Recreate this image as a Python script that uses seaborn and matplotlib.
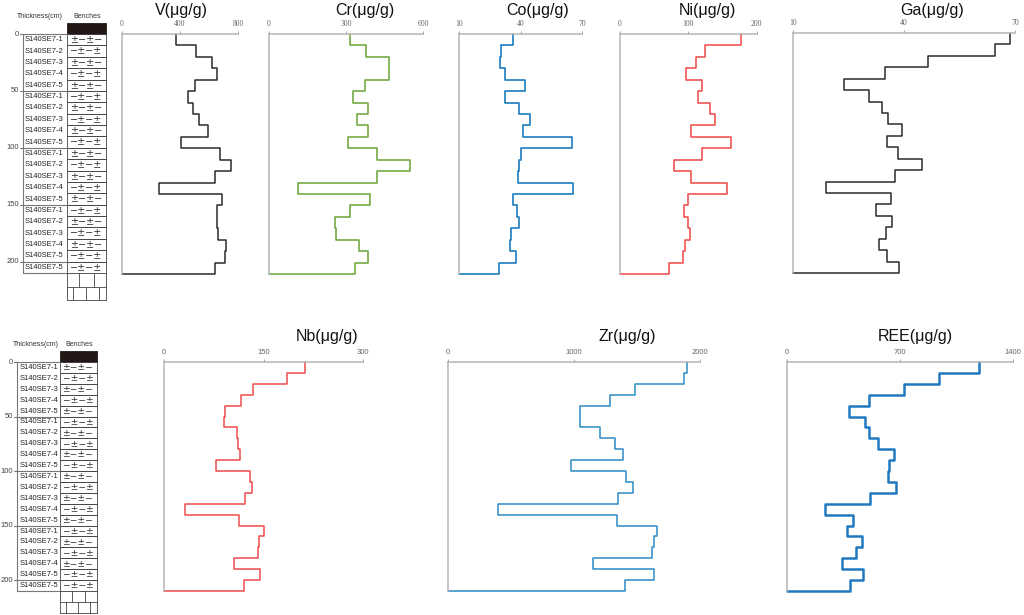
import matplotlib
matplotlib.use('Agg')
import matplotlib.pyplot as plt
from matplotlib.patches import Rectangle
import seaborn as sns
import numpy as np

sns.set_style('white')
plt.rcParams['font.family'] = ['Liberation Sans', 'DejaVu Sans']

# ---- data ----
bench_thickness = 10  # cm per bench
samples = ['S140SE7-1', 'S140SE7-2', 'S140SE7-3', 'S140SE7-4', 'S140SE7-5'] * 4 + ['S140SE7-5']
patterns = ['±−±−', '−±−±'] * 10 + ['−±−±']
thick_ticks = [0, 50, 100, 150, 200]

V = [370, 510, 622, 651, 505, 455, 489, 530, 594, 407, 674, 747, 642, 256, 688, 651, 655, 660, 713, 706, 642]
Cr = [316, 378, 468, 468, 375, 325, 384, 343, 386, 306, 419, 547, 419, 114, 391, 314, 256, 260, 351, 386, 335]
Co = [36.4, 30.3, 30.0, 32.4, 42.1, 32.4, 39.3, 44.5, 41.0, 65.1, 40.1, 39.0, 38.8, 65.3, 36.3, 38.4, 39.2, 35.3, 34.6, 37.6, 29.6]
Ni = [177, 124, 111, 96, 120, 114, 132, 139, 104, 162, 120, 79, 104, 157, 100, 94, 100, 103, 95, 92, 72]
Ga = [68.7, 64.6, 46.4, 34.8, 23.7, 30.5, 34.0, 35.7, 39.5, 35.3, 38.4, 44.9, 37.4, 18.8, 36.4, 32.5, 36.8, 35.0, 33.2, 35.4, 38.6]
Nb = [212.5, 184.5, 134, 116, 91.5, 90, 109, 111.5, 113.5, 78, 129, 131.5, 121.5, 31, 113, 151, 143.5, 142, 105.5, 144.5, 120]
Zr = [1897, 1870, 1486, 1285, 1046, 1046, 1205, 1325, 1391, 977, 1409, 1468, 1351, 397, 1343, 1656, 1632, 1621, 1152, 1632, 1404]
REE = [1190, 944, 723, 509, 381, 480, 509, 565, 660, 631, 625, 677, 513, 236, 408, 371, 466, 429, 342, 472, 391]

edges = np.arange(len(samples) + 1) * bench_thickness
depth_max = edges[-1]

W, H = 1024, 615
fig = plt.figure(figsize=(W / 100, H / 100), dpi=100)


def step_profile(values, xmin):
    xs, ys = [], []
    for i, v in enumerate(values):
        xs += [v, v]
        ys += [edges[i], edges[i + 1]]
    xs.append(xmin)
    ys.append(depth_max)
    return np.array(xs), np.array(ys)


def panel(values, title, lims, ticks, box, color, lw, tick_font, title_cx, title_y):
    x0, x1, yt, yb = box
    ax = fig.add_axes([x0 / W, 1 - yb / H, (x1 - x0) / W, (yb - yt) / H])
    xs, ys = step_profile(values, lims[0])
    sns.lineplot(x=xs, y=ys, sort=False, estimator=None, color=color, lw=lw, ax=ax)
    for l in ax.lines:
        l.set_clip_on(False)
    ax.set_xlim(*lims)
    ax.set_ylim(depth_max, 0)
    ax.xaxis.tick_top()
    ax.set_xticks(ticks)
    ax.set_xticklabels([str(t) for t in ticks], fontsize=5.5, color='#666',
                       family=tick_font)
    ax.tick_params(axis='x', length=2, width=0.6, color='#999', pad=2)
    ax.set_yticks([])
    ax.set_xlabel('')
    ax.set_ylabel('')
    for s in ['bottom', 'right']:
        ax.spines[s].set_visible(False)
    for s in ['top', 'left']:
        ax.spines[s].set_color('#b5b5b5')
        ax.spines[s].set_linewidth(1.1)
    fig.text(title_cx / W, 1 - title_y / H, title, ha='center', va='center',
             fontsize=11.5, color='#111')
    return ax


serif = ['Liberation Serif', 'DejaVu Serif']
sans = ['Liberation Sans', 'DejaVu Sans']

panel(V, 'V(μg/g)', (0, 800), [0, 400, 800], (121.7, 238.3, 34, 274), '#2b2b2b', 1.1, serif, 181, 10)
panel(Cr, 'Cr(μg/g)', (0, 600), [0, 300, 600], (269, 423.3, 34, 274), '#6aa336', 1.1, serif, 365, 10)
panel(Co, 'Co(μg/g)', (10, 70), [10, 40, 70], (459, 582.3, 34, 274), '#1b7dbf', 1.2, serif, 538, 10)
panel(Ni, 'Ni(μg/g)', (0, 200), [0, 100, 200], (620, 756.7, 34, 274), '#ef4646', 1.1, serif, 707, 10)
panel(Ga, 'Ga(μg/g)', (10, 70), [10, 40, 70], (793.3, 1015, 33, 273), '#2b2b2b', 1.1, serif, 932, 10)
panel(Nb, 'Nb(μg/g)', (0, 300), [0, 150, 300], (164.3, 363.3, 362, 591), '#ef4a4a', 1.1, sans, 327, 337)
panel(Zr, 'Zr(μg/g)', (0, 2000), [0, 1000, 2000], (448.3, 700, 362, 591), '#2b8cc4', 1.1, sans, 627, 337)
panel(REE, 'REE(μg/g)', (0, 1400), [0, 700, 1400], (787.3, 1012.7, 362, 591), '#2079c0', 1.8, sans, 915, 337)

# ---- stratigraphic columns (overlay in pixel units) ----
ov = fig.add_axes([0, 0, 1, 1])
ov.set_xlim(0, W)
ov.set_ylim(H, 0)
ov.axis('off')

columns = [
    dict(top=34, bot=273, xa=23, label_cx=44, bx0=67, bx1=106, head_y=16,
         thick_cx=40, bench_cx=87, black_top=22.5, mid=287, end=300, fs=7),
    dict(top=362, bot=591, xa=17.3, label_cx=39, bx0=60, bx1=96.7, head_y=345,
         thick_cx=36, bench_cx=79, black_top=351, mid=602, end=613, fs=6.6),
]

for c in columns:
    top, bot = c['top'], c['bot']
    s = (bot - top) / depth_max
    bx0, bx1 = c['bx0'], c['bx1']
    bw = bx1 - bx0
    ov.text(c['thick_cx'], c['head_y'], 'Thickness(cm)', ha='center', va='center', fontsize=5, color='#333')
    ov.text(c['bench_cx'], c['head_y'], 'Benches', ha='center', va='center', fontsize=5, color='#333')
    ov.add_patch(Rectangle((bx0, c['black_top']), bw, top - c['black_top'], fc='#231815', ec='#231815', lw=0.6))
    ov.plot([c['xa'], c['xa']], [top, bot], color='#777', lw=0.8)
    ov.plot([c['xa'], bx0], [bot, bot], color='#777', lw=0.8)
    for t in thick_ticks:
        y = top + t * s
        ov.plot([c['xa'] - 3, bx0], [y, y], color='#777', lw=0.8)
        ov.text(c['xa'] - 4, y, str(t), ha='right', va='center', fontsize=5.5, color='#444')
    for i, (name, pat) in enumerate(zip(samples, patterns)):
        y0 = top + edges[i] * s
        y1 = top + edges[i + 1] * s
        ov.add_patch(Rectangle((bx0, y0), bw, y1 - y0, fc='none', ec='#444', lw=0.6))
        ov.text(c['label_cx'], (y0 + y1) / 2, name, ha='center', va='center', fontsize=5.5, color='#222')
        ov.text(bx0 + bw / 2, (y0 + y1) / 2 + 0.3, pat, ha='center', va='center',
                fontsize=c['fs'], color='#333', family=['DejaVu Sans'])
    # lower undivided part
    ov.plot([bx0, bx1], [bot, bot], color='#444', lw=0.6, ls=':')
    ov.plot([bx0, bx0], [bot, c['end']], color='#444', lw=0.6)
    ov.plot([bx1, bx1], [bot, c['end']], color='#444', lw=0.6)
    ov.plot([bx0, bx1], [c['mid'], c['mid']], color='#444', lw=0.6)
    ov.plot([bx0, bx1], [c['end'], c['end']], color='#444', lw=0.6)
    for f in [0.32, 0.68]:
        ov.plot([bx0 + f * bw] * 2, [bot, c['mid']], color='#444', lw=0.6)
    for f in [0.15, 0.48, 0.82]:
        ov.plot([bx0 + f * bw] * 2, [c['mid'], c['end']], color='#444', lw=0.6)

fig.savefig('out.png', dpi=100)
